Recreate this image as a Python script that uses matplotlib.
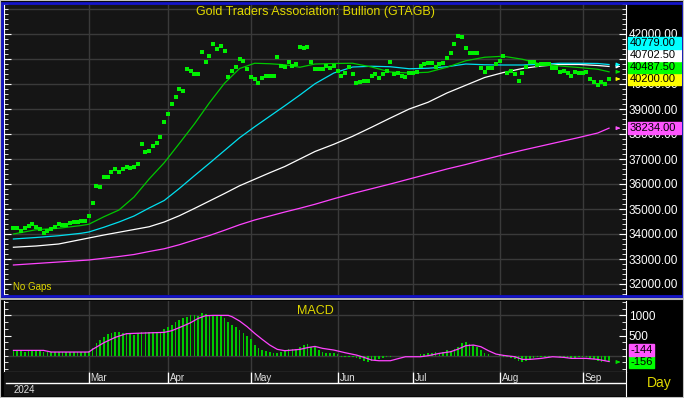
import numpy as np
import pandas as pd
import matplotlib
matplotlib.use("Agg")
import matplotlib.pyplot as plt
from matplotlib.patches import Rectangle, FancyArrowPatch
from matplotlib.ticker import MultipleLocator, FixedLocator, FuncFormatter
import matplotlib.transforms as mtrans

# daily close (THB), first bar = 2 Feb 2024, weekdays only
price = [
    34230, 34230, 34130, 34230, 34320, 34410, 34280, 34190, 34030, 34130,
    34190, 34290, 34410, 34370, 34370, 34430, 34490, 34490, 34530, 34530,
    34720, 35230, 35920, 35880, 36280, 36280, 36480, 36590, 36480, 36590,
    36690, 36640, 36690, 36790, 37590, 37290, 37330, 37530, 37630, 37890,
    38490, 38790, 39190, 39490, 39790, 39720, 40590, 40520, 40390, 40390,
    41290, 40890, 41130, 41590, 41390, 41530, 41330, 40290, 40530, 40690,
    40990, 40920, 40590, 40290, 40190, 40030, 40230, 40330, 40330, 40330,
    41090, 40720, 40670, 40890, 40730, 40790, 41490, 41430, 41490, 40880,
    40590, 40590,
    40590, 40730, 40630, 40730, 40520, 40320, 40430, 40690, 40390, 40030,
    40080, 40120, 40120, 40320, 40390, 40230, 40390, 40530, 40880, 40400,
    40430, 40320, 40280, 40430, 40430, 40490, 40730, 40790, 40830, 40830,
    40690, 40790, 40830, 41030, 41230, 41590, 41930, 41890, 41430,
    41230, 41230, 41230, 40630, 40490, 40630, 40630, 40800, 40930, 41120,
    40430, 40530, 40390, 40120, 40430, 40670, 40890, 40890, 40760, 40790,
    40790, 40790, 40650, 40650, 40490, 40530, 40430, 40320, 40490, 40430,
    40430, 40490, 40200, 40090, 39960, 40090, 39990, 40200,
]

ma_days = [0, 6, 12, 18, 20, 24, 28, 32, 36, 40, 44, 48, 52, 56, 60, 64, 68, 72,
           76, 80, 85, 90, 95, 100, 105, 110, 115, 120, 125, 130, 135, 140, 145,
           150, 155, 158]
ma_fast = [34000, 34170, 34230, 34340, 34390, 34690, 34960, 35480, 36200, 36850,
           37620, 38400, 39250, 40030, 40620, 40830, 40810, 40770, 40670, 40800,
           40820, 40830, 40680, 40480, 40440, 40470, 40670, 40930, 41070, 41110,
           40990, 40790, 40720, 40660, 40590, 40487.5]
ma_mid = [33800, 33860, 33930, 34030, 34080, 34270, 34480, 34720, 35040, 35340,
          35820, 36330, 36830, 37340, 37850, 38290, 38710, 39130, 39560, 40010,
          40440, 40680, 40710, 40690, 40610, 40630, 40690, 40800, 40770, 40760,
          40760, 40790, 40830, 40830, 40820, 40779]
ma_slow = [33470, 33520, 33600, 33780, 33840, 33960, 34070, 34180, 34290, 34480,
           34730, 35020, 35320, 35620, 35930, 36190, 36450, 36700, 37000, 37300,
           37590, 37910, 38270, 38640, 39000, 39270, 39640, 39950, 40260, 40460,
           40620, 40720, 40780, 40780, 40740, 40702.5]
ma_long = [32760, 32820, 32880, 32940, 32960, 33030, 33100, 33180, 33300, 33410,
           33570, 33760, 33940, 34150, 34370, 34560, 34720, 34880, 35030, 35190,
           35410, 35620, 35810, 36000, 36200, 36400, 36600, 36780, 36980, 37170,
           37350, 37520, 37690, 37860, 38040, 38234]

# MACD bars, one per bar of price
macd = [
    124, 116, 116, 99, 124, 124, 124, 116, 99, 91, 83, 83, 85, 85, 85, 85, 88, 88, 90, 90,
    116, 182, 322, 388, 470, 528, 561, 578, 586, 569, 569, 553, 520, 553, 578, 578, 586, 586, 586, 594,
    652, 718, 767, 833, 883, 924, 965, 1007, 1007, 982, 1048, 1031, 1007, 998, 998, 982, 924, 842, 759, 718,
    635, 553, 487, 404, 264, 182, 140, 116, 83, 74, 74, 99, 140, 157, 157, 157, 223, 264, 289, 223,
    206, 140, 99, 74, 58, 58, 41, -41, -41, -25, -41, -66, -91, -132, -149, -132, -107, -91, -66, -41,
    -25, -8, -8, -8, -8, -8, 3, -8, 33, 41, 74, 58, 99, 74, 99, 140, 124, 157, 223, 305,
    330, 289, 256, 223, 140, 74, 33, 5, -8, 16, -25, -25, -50, -83, -132, -149, -124, -91, -66, -41,
    -25, -25, -25, -8, -8, -25, -41, -66, -66, -66, -41, -41, -41, -66, -91, -132, -149, -132, -156,
]
sig_days = [0, 8, 10, 20, 21, 24, 27, 30, 32, 40, 42, 45, 47, 49, 51, 53, 57, 58, 60,
            62, 64, 66, 68, 70, 72, 74, 76, 78, 80, 82, 85, 88, 91, 93, 95, 97, 100,
            102, 104, 108, 110, 113, 116, 118, 120, 122, 124, 126, 128, 130, 133,
            135, 137, 140, 143, 146, 148, 152, 155, 158]
signal = [132, 132, 91, 91, 157, 322, 454, 545, 553, 578, 619, 734, 817, 924, 990,
          998, 998, 965, 858, 718, 553, 404, 264, 157, 124, 140, 157, 200, 230, 182,
          140, 74, 16, -41, -107, -124, -124, -74, -25, -25, 0, 58, 99, 165, 248,
          264, 223, 124, 41, 8, -25, -91, -91, -66, -25, -41, -66, -66, -91, -144]

W, H = 684, 398
BG = "#151515"
GRID = "#3a3a3a"
YEL = "#e0d800"

plt.rcParams["font.family"] = ["Liberation Sans", "DejaVu Sans"]


def box(x0, y0, x1, y1):
    # pixel box (top-left origin) -> figure fraction
    return [x0 / W, 1 - y1 / H, (x1 - x0) / W, (y1 - y0) / H]


dates = pd.bdate_range("2024-02-02", periods=len(price))
x = np.arange(len(price))
month_start = [i for i in range(1, len(dates)) if dates[i].month != dates[i - 1].month]

fig = plt.figure(figsize=(W / 100, H / 100), dpi=100, facecolor="black")


def value_tags(axis, items, x0, width, h=12):
    # stack coloured last-value boxes so they do not overlap, lowest first
    last = None
    centers = []
    for val, txt, col in sorted(items, key=lambda t: t[0]):
        yp = axis.transData.transform((0, val))[1]
        if last is not None and yp < last + h:
            yp = last + h
        last = yp
        centers.append(yp)
        fig.add_artist(Rectangle((x0 / W, (yp - h / 2) / H), width / W, h / H,
                                 transform=fig.transFigure, color=col, zorder=5))
        fig.text((x0 + 1.5) / W, yp / H, txt, ha="left", va="center",
                 color="black", fontsize=8, zorder=6)
    return centers


def value_arrow(axis, val, col):
    tr = mtrans.blended_transform_factory(axis.transAxes, axis.transData)
    axis.add_patch(FancyArrowPatch((0.983, val), (0.995, val), transform=tr,
                                   arrowstyle="-|>", mutation_scale=5, color=col,
                                   lw=0.8, clip_on=False))


# ---- price panel
ax = fig.add_axes(box(4, 4, 626, 295), facecolor=BG)
ax.set_xlim(-2.5, 162.5)
ax.set_ylim(31560, 43200)
for m in month_start:
    ax.axvline(m, color=GRID, lw=1, zorder=0)
for v in range(32000, 43001, 1000):
    ax.axhline(v, color=GRID, lw=1, zorder=0)

ax.plot(ma_days, ma_long, color="#ff44ff", lw=0.9)
ax.plot(ma_days, ma_slow, color="#ffffff", lw=0.9)
ax.plot(ma_days, ma_mid, color="#00e0f0", lw=0.9)
ax.plot(ma_days, ma_fast, color="#00c800", lw=0.9)
sq = [(-0.75, -1), (0.75, -1), (0.75, 1), (-0.75, 1), (-0.75, -1)]
ax.plot(x, price, ls="none", marker=sq, ms=3.2, mew=0, color="#00f000")

fig.text(315 / W, 1 - 12 / H, "Gold Traders Association: Bullion (GTAGB)",
         ha="center", va="center", color=YEL, fontsize=9)
ax.text(0.014, 0.012, "No Gaps", transform=ax.transAxes, color=YEL, fontsize=7,
        ha="left", va="bottom")

for val, col in [(ma_slow[-1], "#ffffff"), (ma_mid[-1], "#00ffff"), (ma_fast[-1], "#00e000"),
                 (price[-1], "#ffff00"), (ma_long[-1], "#ff55ff")]:
    value_arrow(ax, val, col)

tags = value_tags(ax, [(ma_mid[-1], "%.2f" % ma_mid[-1], "#00ffff"),
                       (ma_slow[-1], "%.2f" % ma_slow[-1], "#ffffff"),
                       (ma_fast[-1], "%.2f" % ma_fast[-1], "#00ff00"),
                       (price[-1], "%.2f" % price[-1], "#ffff00"),
                       (ma_long[-1], "%.2f" % ma_long[-1], "#ff55ff")], 628, 53)


def axis_label(v, pos):
    # labels lying right under a value tag are hidden, as on the terminal
    yp = ax.transData.transform((0, v))[1]
    if any(abs(yp - t) < 4.5 for t in tags):
        return ""
    return "%.2f" % v


ax.set_xticks([])
ax.yaxis.set_major_locator(FixedLocator(range(32000, 42001, 1000)))
ax.yaxis.set_minor_locator(MultipleLocator(200))
ax.yaxis.set_major_formatter(FuncFormatter(axis_label))
ax.tick_params(axis="y", which="both", direction="in", left=True, right=True,
               labelleft=False, labelright=True, colors="white", labelsize=8.5, pad=2)
ax.tick_params(axis="y", which="major", length=5)
ax.tick_params(axis="y", which="minor", length=3)
for s in ["top", "bottom"]:
    ax.spines[s].set_visible(False)
for s in ["left", "right"]:
    ax.spines[s].set_color("white")

# ---- MACD panel
ax2 = fig.add_axes(box(4, 301, 626, 372), facecolor=BG)
ax2.set_xlim(-2.5, 162.5)
ax2.set_ylim(-403, 1354)
for m in month_start:
    ax2.axvline(m, color=GRID, lw=1, zorder=0)
for v in [0, 1000]:
    ax2.axhline(v, color=GRID, lw=1, zorder=0)
ax2.bar(x, macd, width=0.45, color="#00c800")
ax2.plot(sig_days, signal, color="#ff44ff", lw=0.9)
ax2.text(0.5, 0.86, "MACD", transform=ax2.transAxes, color=YEL, fontsize=9,
         ha="center", va="center")
ax2.set_xticks([])
ax2.set_yticks([500, 1000])
ax2.yaxis.set_minor_locator(MultipleLocator(1000 / 6))
ax2.tick_params(axis="y", which="both", direction="in", left=True, right=True,
                labelleft=False, labelright=True, colors="white", labelsize=8.5, pad=2)
ax2.tick_params(axis="y", which="major", length=5)
ax2.tick_params(axis="y", which="minor", length=3)
ax2.spines["top"].set_visible(False)
for s in ["left", "right", "bottom"]:
    ax2.spines[s].set_color("white")
value_arrow(ax2, macd[-1], "#00e000")
value_tags(ax2, [(signal[-1], "%d" % signal[-1], "#ff55ff"),
                 (macd[-1], "%d" % macd[-1], "#00ff00")], 629, 25)

# ---- date strip
ax3 = fig.add_axes(box(4, 372, 626, 396), facecolor=BG)
ax3.set_xlim(-2.5, 162.5)
ax3.set_ylim(0, 1)
ax3.set_xticks([])
ax3.set_yticks([])
for s in ["top", "left", "bottom"]:
    ax3.spines[s].set_visible(False)
ax3.spines["right"].set_color("white")
ax3.axhline(0.54, xmin=0.003, color="white", lw=1)
ax3.vlines(month_start, 0.54, 1, color="white", lw=1)
for m in month_start:
    ax3.text(m + 0.5, 0.76, dates[m].strftime("%b"), color="#e0e0e0", fontsize=7,
             ha="left", va="center")
ax3.text(0.016, 0.25, str(dates[0].year), transform=ax3.transAxes, color="#e0e0e0",
         fontsize=7, ha="left", va="center")
fig.text(659 / W, 1 - 383 / H, "Day", color=YEL, fontsize=10, ha="center", va="center")

# frames
fig.add_artist(Rectangle((1.5 / W, (H - 296) / H), 681 / W, 293.5 / H, fill=False,
                         ec="#1414c8", lw=2, transform=fig.transFigure, zorder=7))
fig.add_artist(plt.Line2D([0, 1], [1 - 299 / H, 1 - 299 / H], color="#b0b0b0", lw=1.5,
                          transform=fig.transFigure))
fig.add_artist(Rectangle((0, 0), 1, 1, fill=False, ec="#c0c0c0", lw=1.5,
                         transform=fig.transFigure, zorder=8))

fig.savefig("out.png", dpi=100, facecolor=fig.get_facecolor())
